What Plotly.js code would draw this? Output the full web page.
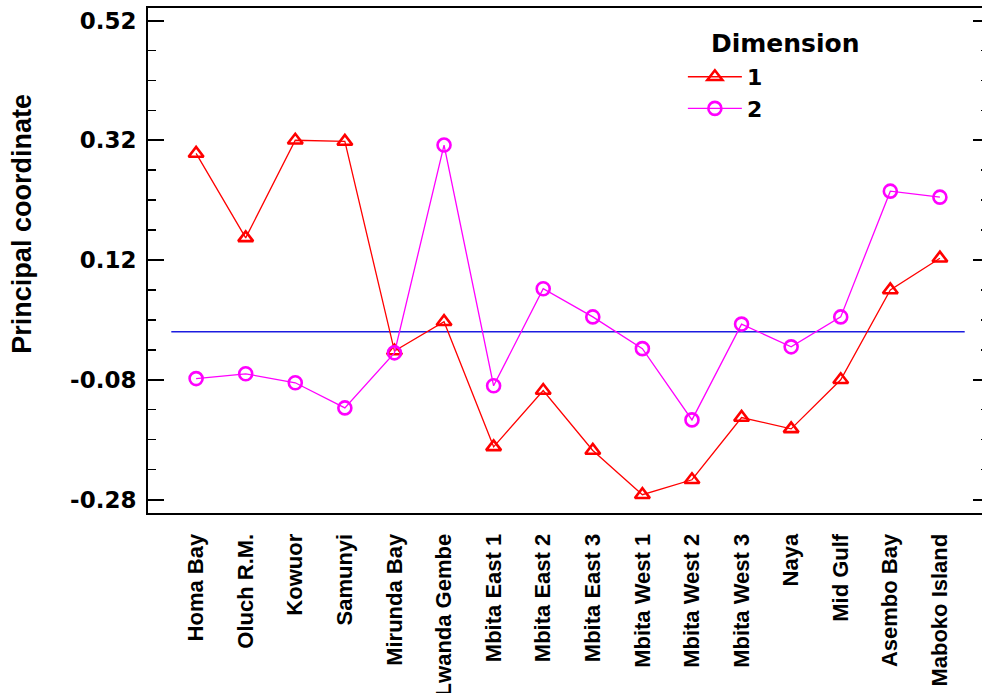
<!DOCTYPE html>
<html>
<head>
<meta charset="utf-8">
<script src="https://cdn.plot.ly/plotly-3.0.1.min.js"></script>
<style>
html,body{margin:0;padding:0;overflow:hidden;background:#fff;width:982px;height:693px;}
#chart{width:995px;height:693px;}
</style>
</head>
<body>
<div id="chart"></div>
<script>
const sites = ["Homa Bay","Oluch R.M.","Kowuor","Samunyi","Mirunda Bay","Lwanda Gembe","Mbita East 1","Mbita East 2","Mbita East 3","Mbita West 1","Mbita West 2","Mbita West 3","Naya","Mid Gulf","Asembo Bay","Maboko Island"];
const dim1 = [0.298,0.157,0.320,0.318,-0.032,0.017,-0.192,-0.098,-0.198,-0.272,-0.247,-0.143,-0.162,-0.080,0.070,0.123];
const dim2 = [-0.078,-0.070,-0.085,-0.127,-0.035,0.312,-0.090,0.072,0.025,-0.028,-0.147,0.013,-0.025,0.025,0.235,0.225];
const yTickVals = [-0.28,-0.08,0.12,0.32,0.52];
const yTickText = ["-0.28","-0.08","0.12","0.32","0.52"];
const seriesNames = ["1","2"];
const legendTitle = "Dimension";
const yTitle = "Principal coordinate";
const refLineY = 0;

const traces = [
  {x: sites, y: dim1, name: seriesNames[0], type: 'scatter', mode: 'lines+markers',
   line: {color: '#ff0000', width: 1.3},
   marker: {symbol: 'triangle-up-open', size: 13, color: '#ff0000', line: {width: 2.6, color: '#ff0000'}}},
  {x: sites, y: dim2, name: seriesNames[1], type: 'scatter', mode: 'lines+markers',
   line: {color: '#ff00ff', width: 1.3},
   marker: {symbol: 'circle-open', size: 13, color: '#ff00ff', line: {width: 2.6, color: '#ff00ff'}}}
];

const layout = {
  width: 995, height: 693,
  margin: {l: 148, r: 6, t: 8, b: 180},
  paper_bgcolor: '#fff', plot_bgcolor: '#fff',
  showlegend: true,
  legend: {x: 0.636, y: 0.905, xanchor: 'left', yanchor: 'top',
    font: {family: 'DejaVu Sans', size: 22, color: '#000', weight: 'bold'},
    bgcolor: 'rgba(0,0,0,0)', tracegroupgap: 0, itemwidth: 54},
  xaxis: {type: 'category', range: [-0.97, 15.99], showgrid: false, zeroline: false,
    showline: true, linecolor: '#000', linewidth: 2, mirror: true, ticks: '',
    tickangle: -90, ticklabelstandoff: 10,
    tickfont: {family: 'Liberation Sans', size: 22, color: '#000', weight: 'bold'}},
  yaxis: {range: [-0.3025, 0.5409], showgrid: false, zeroline: false,
    showline: true, linecolor: '#000', linewidth: 2, mirror: 'allticks',
    tickmode: 'array', tickvals: yTickVals, ticktext: yTickText,
    ticks: 'inside', ticklen: 16, tickwidth: 2, tickcolor: '#000',
    ticklabelstandoff: 5,
    minor: {tickmode: 'linear', tick0: 0.12, dtick: 0.05, ticks: 'inside', ticklen: 8, tickwidth: 1.5, tickcolor: '#000', showgrid: false},
    tickfont: {family: 'DejaVu Sans', size: 23, color: '#000', weight: 'bold'}},
  shapes: [{type: 'line', xref: 'x', yref: 'y', x0: -0.5, x1: 15.5, y0: refLineY, y1: refLineY,
    line: {color: '#1c1ce0', width: 1.5}, layer: 'below'}],
  annotations: [
    {text: legendTitle, xref: 'paper', yref: 'paper', x: 0.667, y: 0.929, xanchor: 'left', yanchor: 'middle',
     showarrow: false, font: {family: 'DejaVu Sans', size: 25, color: '#000', weight: 'bold'}},
    {text: yTitle, xref: 'paper', yref: 'paper', x: -0.1498, y: 0.573, xanchor: 'center', yanchor: 'middle',
     textangle: -90, showarrow: false, font: {family: 'Liberation Sans', size: 27, color: '#000', weight: 'bold'}}
  ]
};

Plotly.newPlot('chart', traces, layout, {displayModeBar: false, staticPlot: true});
</script>
</body>
</html>
